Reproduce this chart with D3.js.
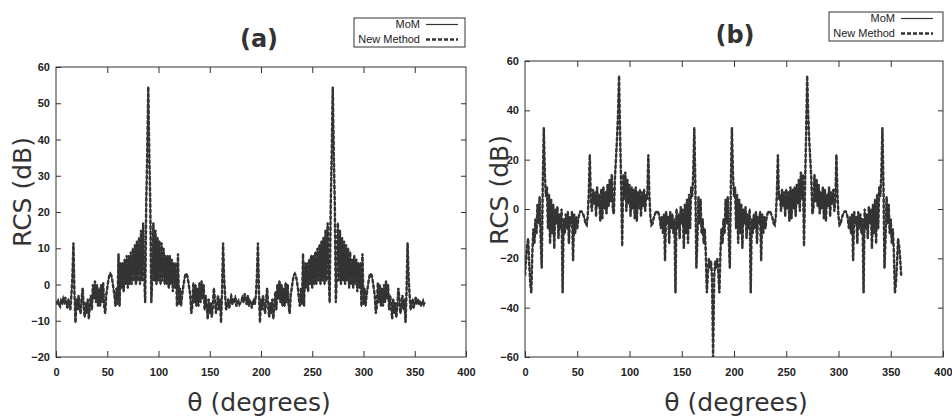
<!DOCTYPE html>
<html>
<head>
<meta charset="utf-8">
<script src="https://cdn.jsdelivr.net/npm/d3@7"></script>
<style>
  body { margin: 0; background: #fff; }
  .tick text { font-family: "Liberation Sans", Arial, sans-serif; font-weight: bold; font-size: 11px; fill: #222; }
  .tick line { stroke: #333; }
  .title { font-family: "DejaVu Sans", sans-serif; font-weight: bold; font-size: 24px; fill: #333; }
  .axisLabel { font-family: "DejaVu Sans", sans-serif; font-size: 25px; fill: #333; }
  .legend text { font-family: "Liberation Sans", Arial, sans-serif; font-size: 11px; fill: #222; }
</style>
</head>
<body>
<svg class="chart" width="952" height="416"></svg>
<script>
// angle step of the samples (degrees), one value per degree 0..360
var thetaStep = 1;

var xTicks = [0, 50, 100, 150, 200, 250, 300, 350, 400];
var yTicksA = [-20, -10, 0, 10, 20, 30, 40, 50, 60];
var yTicksB = [-60, -40, -20, 0, 20, 40, 60];
var legendNames = ["MoM", "New Method"];

// panel (a) RCS in dB
var momA = [
  -5,-5.5,-4.5,-5,-6,-4.5,-5,-4,-5.5,-3.5,
  -5,-6.5,-4,-5.5,-7,-3,2,11.5,-2,-10.5,
  -4,-7,-3,-6,-8,-4,-1,-6,-9,-5,
  -8,-4,-9.5,-6,-3,-7,0,-4,1,-5,
  0,-6,-1,-6,0,-5,0.5,-6,-8,-3,
  -1,1,2.5,3,2.5,1,-1,-3,-6,-1,
  -5.5,8.5,-6,6,-1,6,-2,7,0,8,
  -1,8,0,9,0,10,1,11,0,12,
  1,13,0,15,1,17,3,-5,22,36,
  54.5,
  36,22,-5,3,17,1,15,0,13,
  1,12,0,11.5,1,10,0,8,0,8,
  -1,8,0,7,-2,6,-1,6,-6,8.5,
  -5.5,-1,-6,-3,-1,1,2.5,3,2.5,1,
  -1,-3,-8,-6,0.5,-5,0,-6,-1,-6,
  0.5,-5,1,-4,0,-7,-3,-6,-9.5,-4,
  -8,-5,-9,-6,-1,-4,-8,-6,-3,-7,
  -4,-10.5,-2,11.5,2,-3,-7,-5.5,-4,-6.5,
  -5,-2.5,-5.5,-4,-5,-3,-6,-5,-4.5,-5.5,
  -5,
  -4.5,-3,-5,-2.5,-4,-5.5,-3,-6,-4.5,
  -5,-6.5,-5,-4,-5.5,-3,2,11.5,-2,-10.5,
  -4,-7,-3,-6,-8,-4,-1,-6,-9,-5,
  -8,-4,-9.5,-6,-2,-7,0,-4,1,-5,
  0,-6,-1,-6,0.5,-5,0,-6,-8,-3,
  -1,1,2.5,3,2.5,1,-1,-4,-6,-1,
  -5.5,8.5,-6,6,-1,6,-2,7,0,8,
  -1,8,0,9,0,10,1,11,0,12,
  1,13,0,15,1,17,3,-5,22,36,
  54.5,
  36,22,-5,3,17,1,15,0,13,
  1,12,0,11,1,10,-1,9,0,7,
  -1,8,0,7,-2,6,-1,6,-6,8.5,
  -5.5,-1,-6,-3,-1,1,2.5,3,2.5,1,
  -1,-3,-8,-6,0.5,-5,0,-6,-1,-6,
  0,-5,1,-4,0,-7,-3,-6,-9.5,-4,
  -8,-5,-9,-6,-1,-4,-8,-6,-3,-7,
  -4,-10.5,-2,11.5,2,-3,-7,-5.5,-4,-6.5,
  -5,-3.5,-5.5,-4,-5,-4.5,-6,-5,-4.5,-5.5,
  -5
];
var newA = [
  -5,-5,-4.5,-5.5,-6,-4.5,-5,-4,-5,-3.5,
  -5,-6.5,-4,-5.5,-7,-3,2,11.5,-2.5,-10.5,
  -4,-7,-3,-6,-8,-4,-1,-6,-9,-5,
  -8,-4,-9.5,-6,-3,-7,0,-4,1,-5,
  0,-6,-1,-6,0,-5,0.5,-6,-8,-3,
  -1,1,2.5,3,2.5,1,-1,-3,-6,-1,
  -5.5,8.5,-6,6,-1,6,-2,7,0,8,
  -1,8,0,9,0,10,1,11,0,12,
  1,13,0,15,1,17,3,-5,22,36,
  54.5,
  36,22,-5,3,17,1,15,0,13,
  1,12,0,11.5,1,10,0,8,0,8,
  -1,8,0,7,-2,6,-1,6,-6,8.5,
  -5.5,-1,-6,-3,-1,1,2.5,3,2.5,1,
  -1,-3,-8,-6,0.5,-5,0,-6,-1,-6,
  0.5,-5,1,-4,0,-7,-3,-6,-9.5,-4,
  -8,-5,-9,-6,-1,-4,-8,-6,-3,-7,
  -4,-10.5,-2,11.5,2,-3,-7,-5.5,-4,-6.5,
  -5,-3,-5.5,-4,-5,-3.5,-6,-5,-4.5,-5.5,
  -5,
  -4.5,-3.5,-5,-2.5,-4,-5.5,-3,-6,-4.5,
  -5,-6.5,-5,-4,-5.5,-3,2,11.5,-2,-10.5,
  -4,-7,-3,-6,-8,-4,-1,-6,-9,-5,
  -8,-4,-9.5,-6,-2,-7,0,-4,1,-5,
  0,-6,-1,-6,0.5,-5,0,-6,-8,-3,
  -1,1,2.5,3,2.5,1,-1,-4,-6,-1,
  -5.5,8.5,-6,6,-1,6,-2,7,0,8,
  -1,8,0,9,0,10,1,11,0,12,
  1,13,0,15,1,17,3,-5,22,36,
  54.5,
  36,22,-5,3,17,1,15,0,13,
  1,12,0,11,1,10,-1,9,0,7,
  -1,8,0,7,-2,6,-1,6,-6,8.5,
  -5.5,-1,-6,-3,-1,1,2.5,3,2.5,1,
  -1,-3,-8,-6,0.5,-5,0,-6,-1,-6,
  0,-5,1,-4,0,-7,-3,-6,-9.5,-4,
  -8,-5,-9,-6,-1,-4,-8,-6,-3,-7,
  -4,-10.5,-2,11.5,2,-3,-7,-5.5,-4,-6.5,
  -5,-3.5,-5.5,-4,-5,-4.5,-6,-5,-4.5,-5.5,
  -5
];

// panel (b) RCS in dB
var momB = [
  -27,-20,-15,-12,-22,-30,-34,-18,-8,-14,
  -4,-10,2,-6,5,-12,-24,10,33,14,
  5,9,-8,6,-14,4,-10,2,-16,0,
  -6,1,-12,-2,-8,0,-34,-4,-10,-2,
  -8,-1,-14,-3,-6,-1,-21,-2,-10,-3,
  -8,-4,-2,-1,-1,-1.5,-2.5,-4,-6,-6.5,
  -3,6,22,4,-1,8,2,7,-3,9,
  1,6,-5,8,-4,9,0,7,-2,10,
  1,12,3,14,0,-2,12,20,28,38,
  54,
  30,10,-15,14,4,15,-1,12,2,
  10,-3,9,0,8,-4,9,-5,7,0,
  8,-3,7,1,8,-1,6,4,22,6,
  -3,-6.5,-6,-4,-2.5,-1.5,-1,-1,-2,-4,
  -8,-3,-10,-2,-21,-1,-6,-3,-14,-1,
  -8,-2,-10,-4,-34,0,-8,-2,-12,1,
  -6,0,-16,2,-10,4,-14,6,-8,9,
  5,14,33,10,-24,-12,5,-6,4,-10,
  -4,-14,-8,-18,-34,-26,-20,-24,-21,-28,
  -60,
  -28,-21,-24,-20,-26,-34,-18,-8,-14,
  -4,-10,4,-6,5,-12,-24,10,33,14,
  5,9,-8,6,-14,4,-10,2,-16,0,
  -6,1,-12,-2,-8,0,-34,-4,-10,-2,
  -8,-1,-14,-3,-6,-1,-21,-2,-10,-3,
  -8,-4,-2,-1,-1,-1.5,-2.5,-4,-6,-6.5,
  -3,6,22,4,6,-1,8,1,7,-3,
  8,0,7,-5,9,-4,8,0,9,-3,
  10,2,12,-1,15,4,14,-15,10,30,
  54,
  38,28,20,12,-2,0,14,3,12,
  1,10,-2,7,0,9,-4,8,-5,6,
  1,9,-3,7,2,8,-1,4,22,6,
  -3,-6.5,-6,-4,-2.5,-1.5,-1,-1,-2,-4,
  -8,-3,-10,-2,-21,-1,-6,-3,-14,-1,
  -8,-2,-10,-4,-34,0,-8,-2,-12,1,
  -6,0,-16,2,-10,4,-14,6,-8,9,
  5,14,33,10,-24,-12,5,-6,2,-10,
  -4,-14,-8,-18,-34,-30,-22,-12,-15,-20,
  -27
];
var newB = [
  -27,-20,-15,-12,-22,-30,-34,-18,-8,-14,
  -4,-10,2,-6,5,-12,-24,10,33,14,
  5,9,-8,6,-14,4,-10,2,-16,0,
  -6,1,-12,-2,-8,0,-34,-4,-10,-2,
  -8,-1,-14,-3,-6,-1,-21,-2,-10,-3,
  -8,-4,-2,-1,-1,-1.5,-2.5,-4,-6,-6.5,
  -3,6,22,4,-1,8,2,7,-3,9,
  1,6,-5,8,-4,9,0,7,-2,10,
  1,12,3,14,0,-2,12,20,28,38,
  54,
  30,10,-15,14,4,15,-1,12,2,
  10,-3,9,0,8,-4,9,-5,7,0,
  8,-3,7,1,8,-1,6,4,22,6,
  -3,-6.5,-6,-4,-2.5,-1.5,-1,-1,-2,-4,
  -8,-3,-10,-2,-21,-1,-6,-3,-14,-1,
  -8,-2,-10,-4,-34,0,-8,-2,-12,1,
  -6,0,-16,2,-10,4,-14,6,-8,9,
  5,14,33,10,-24,-12,5,-6,4,-10,
  -4,-14,-8,-18,-34,-26,-20,-24,-21,-28,
  -60,
  -28,-21,-24,-20,-26,-34,-18,-8,-14,
  -4,-10,4,-6,5,-12,-24,10,33,14,
  5,9,-8,6,-14,4,-10,2,-16,0,
  -6,1,-12,-2,-8,0,-34,-4,-10,-2,
  -8,-1,-14,-3,-6,-1,-21,-2,-10,-3,
  -8,-4,-2,-1,-1,-1.5,-2.5,-4,-6,-6.5,
  -3,6,22,4,6,-1,8,1,7,-3,
  8,0,7,-5,9,-4,8,0,9,-3,
  10,2,12,-1,15,4,14,-15,10,30,
  54,
  38,28,20,12,-2,0,14,3,12,
  1,10,-2,7,0,9,-4,8,-5,6,
  1,9,-3,7,2,8,-1,4,22,6,
  -3,-6.5,-6,-4,-2.5,-1.5,-1,-1,-2,-4,
  -8,-3,-10,-2,-21,-1,-6,-3,-14,-1,
  -8,-2,-10,-4,-34,0,-8,-2,-12,1,
  -6,0,-16,2,-10,4,-14,6,-8,9,
  5,14,33,10,-24,-12,5,-6,2,-10,
  -4,-14,-8,-18,-34,-30,-22,-12,-15,-20,
  -27
];

var panels = [
  { id: "a", title: "(a)", mom: momA, nm: newA, yDomain: [-20, 60], yTicks: yTicksA,
    left: 56, right: 466, top: 67, bottom: 357,
    titleX: 259, titleY: 47, xLabelX: 259, yLabelX: 31, yLabelY: 192,
    legendX: 354, legendY: 18, legendW: 111 },
  { id: "b", title: "(b)", mom: momB, nm: newB, yDomain: [-60, 60], yTicks: yTicksB,
    left: 525, right: 943, top: 61, bottom: 357,
    titleX: 735, titleY: 43, xLabelX: 736, yLabelX: 508, yLabelY: 190,
    legendX: 829, legendY: 12, legendW: 114 }
];

var svg = d3.select(".chart");
svg.append("rect").attr("width", 952).attr("height", 416).attr("fill", "#fff");

panels.forEach(function(p) {
  var x = d3.scaleLinear().domain([0, 400]).range([p.left, p.right]);
  var y = d3.scaleLinear().domain(p.yDomain).range([p.bottom, p.top]);
  var g = svg.append("g");

  g.append("clipPath").attr("id", "clip-" + p.id)
    .append("rect")
    .attr("x", p.left).attr("y", p.top)
    .attr("width", p.right - p.left).attr("height", p.bottom - p.top);

  // ticks on all four sides, pointing inward
  g.append("g").attr("transform", "translate(0," + p.bottom + ")")
    .call(d3.axisBottom(x).tickValues(xTicks).tickSize(-6).tickPadding(11));
  g.append("g").attr("transform", "translate(0," + p.top + ")")
    .call(d3.axisTop(x).tickValues(xTicks.slice(1, -1)).tickSize(-6).tickFormat(""));
  g.append("g").attr("transform", "translate(" + p.left + ",0)")
    .call(d3.axisLeft(y).tickValues(p.yTicks).tickSize(-5).tickPadding(6));
  g.append("g").attr("transform", "translate(" + p.right + ",0)")
    .call(d3.axisRight(y).tickValues(p.yTicks.slice(1, -1)).tickSize(-5).tickFormat(""));
  g.selectAll(".domain").remove();

  var line = d3.line()
    .x(function(d, i) { return x(i * thetaStep); })
    .y(function(d) { return y(d); });

  var curves = g.append("g").attr("clip-path", "url(#clip-" + p.id + ")");
  curves.append("path").datum(p.mom)
    .attr("d", line)
    .attr("fill", "none").attr("stroke", "#333").attr("stroke-width", 1.3)
    .attr("stroke-linejoin", "round");
  curves.append("path").datum(p.nm)
    .attr("d", line)
    .attr("fill", "none").attr("stroke", "#333").attr("stroke-width", 2.4)
    .attr("stroke-dasharray", "4,1.5");

  g.append("rect")
    .attr("x", p.left).attr("y", p.top)
    .attr("width", p.right - p.left).attr("height", p.bottom - p.top)
    .attr("fill", "none").attr("stroke", "#333").attr("stroke-width", 1);

  g.append("text").attr("class", "title")
    .attr("x", p.titleX).attr("y", p.titleY)
    .attr("text-anchor", "middle").text(p.title);

  g.append("text").attr("class", "axisLabel")
    .attr("x", p.xLabelX).attr("y", 411)
    .attr("text-anchor", "middle").text("θ (degrees)");

  g.append("text").attr("class", "axisLabel")
    .attr("transform", "translate(" + p.yLabelX + "," + p.yLabelY + ") rotate(-90)")
    .attr("text-anchor", "middle").text("RCS (dB)");

  // legend box
  var lg = g.append("g").attr("class", "legend");
  lg.append("rect")
    .attr("x", p.legendX).attr("y", p.legendY)
    .attr("width", p.legendW).attr("height", 29)
    .attr("fill", "#fff").attr("stroke", "#333").attr("stroke-width", 1);
  legendNames.forEach(function(name, i) {
    lg.append("text")
      .attr("x", p.legendX + 66).attr("y", p.legendY + 10 + i * 15)
      .attr("text-anchor", "end").text(name);
    lg.append("line")
      .attr("x1", p.legendX + 72).attr("x2", p.legendX + 104)
      .attr("y1", p.legendY + 6.5 + i * 15).attr("y2", p.legendY + 6.5 + i * 15)
      .attr("stroke", "#333")
      .attr("stroke-width", i === 0 ? 1.2 : 2.5)
      .attr("stroke-dasharray", i === 0 ? null : "4,2");
  });
});
</script>
</body>
</html>
